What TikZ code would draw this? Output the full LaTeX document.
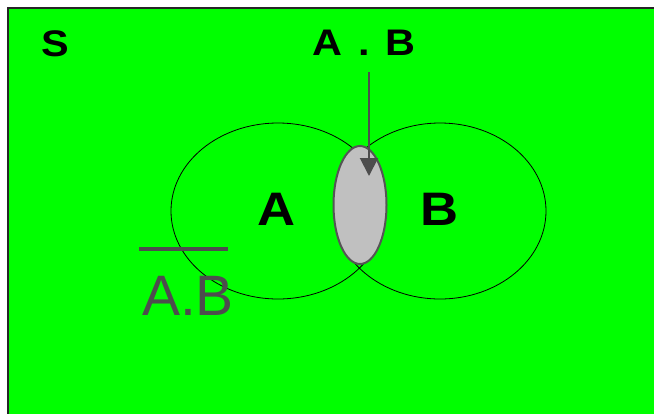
\documentclass[tikz,border=0pt]{standalone}
\usepackage{fontspec}
\setmainfont{Liberation Sans}
\usetikzlibrary{arrows.meta}
\definecolor{vgreen}{HTML}{00FF00}
\definecolor{dgray}{HTML}{4D4D4D}
\definecolor{egray}{HTML}{555555}
\definecolor{lgray}{HTML}{C0C0C0}
\tikzset{
  setcirc/.style={draw=black, line width=0.8pt},
  boldlbl/.style={font=\bfseries\fontsize{#1}{#1}\selectfont, text=black, inner sep=0pt, anchor=center, xscale=1.12},
}
\begin{document}
\begin{tikzpicture}[x=1pt,y=-1pt]
\useasboundingbox (0,0) rectangle (654,413);
\fill[white] (0,0) rectangle (654,413);
\draw[fill=vgreen, draw=black!85, line width=1.5pt] (8,8) -- (8,420) -- (660,420) -- (660,8) -- cycle;
\node[boldlbl=37] (S) at (55,44) {S};
\node[boldlbl=37] (AB) at (364,43) {A\hspace{0.38em}.\hspace{0.36em}B};
\draw[setcirc] (278,211) ellipse [x radius=107, y radius=88];
\draw[setcirc] (440,211) ellipse [x radius=106, y radius=88];
\draw[fill=lgray, draw=egray, line width=2pt] (360,205) ellipse [x radius=26.5, y radius=59];
\node[boldlbl=47] (A) at (277,209) {A};
\node[boldlbl=47] (B) at (440,209) {B};
\coordinate (arrstart) at (369,72);
\coordinate (arrend) at (369,176);
\draw[dgray, line width=2pt, -{Triangle[length=18pt, width=18pt]}] (arrstart) -- (arrend);
\node[font=\fontsize{57}{57}\selectfont, text=dgray, inner sep=0pt] (AbB) at (188,296) {A.B};
\coordinate (bl) at (139,249);
\coordinate (br) at (228,249);
\draw[dgray, line width=3.5pt] (bl) -- (br);
\end{tikzpicture}
\end{document}
